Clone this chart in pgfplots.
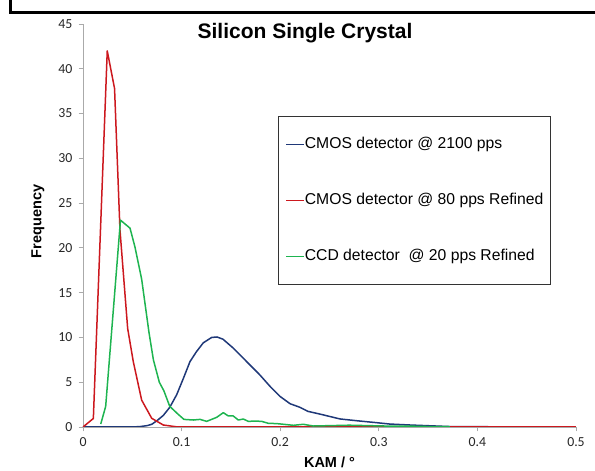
\documentclass[border=0pt]{standalone}
\usepackage{fontspec}
\setmainfont{Liberation Sans}
\newfontfamily\carlito{Carlito}
\usepackage{pgfplots}
\pgfplotsset{compat=1.18}
\definecolor{cblue}{RGB}{31,56,120}
\definecolor{cred}{RGB}{204,24,30}
\definecolor{cgreen}{RGB}{30,180,80}
\definecolor{axgray}{RGB}{170,170,170}
\newcommand{\tlfont}{\carlito\fontsize{13.8}{16}\selectfont}
\begin{document}
\begin{tikzpicture}[x=1pt,y=1pt]
\useasboundingbox (0,0) rectangle (595,471);
\draw[line width=3pt] (10,471) -- (10,458) -- (595,458);
\begin{axis}[
  at={(83pt,44pt)}, anchor=south west,
  scale only axis, width=493pt, height=403pt,
  xmin=0, xmax=0.5, ymin=0, ymax=45,
  xtick={0,0.1,0.2,0.3,0.4,0.5},
  ytick={0,5,...,45},
  axis x line*=bottom, axis y line*=left,
  axis line style={axgray, line width=0.8pt, -},
  tick style={axgray, line width=0.8pt},
  tick align=outside, major tick length=4.5pt,
  tick label style={text=black!85},
  xticklabel style={yshift=-3pt},
  yticklabel style={xshift=-2.5pt},
  xticklabel={\tlfont\pgfmathprintnumber[fixed,assume math mode=true]{\tick}},
  yticklabel={\tlfont\pgfmathprintnumber[assume math mode=true]{\tick}},
  xlabel={KAM / °},
  ylabel={Frequency},
  label style={font=\bfseries\fontsize{14.5}{17}\selectfont},
  xlabel style={at={(axis description cs:0.5,-0.089)}, anchor=center},
  ylabel style={at={(axis description cs:-0.0913,0.51)}, anchor=center, rotate=0},
  legend cell align=left,
  legend style={at={(axis description cs:0.3955,0.7717)}, anchor=north west,
    draw=black!80, line width=0.8pt,
    font=\fontsize{15.7}{18}\selectfont,
    inner xsep=7pt, inner ysep=21pt, row sep=42pt,
    nodes={inner sep=0pt, text height=11pt, text depth=3pt}},
  legend image code/.code={\draw[#1, line width=1.5pt] (0pt,0pt) -- (18pt,0pt);},
  every axis plot/.append style={line width=1.5pt, line join=round},
]
\addplot[cblue] coordinates {
(0,0)(0.05,0)(0.058,0.05)(0.065,0.15)(0.0697,0.3)(0.075,0.7)(0.0815,1.3)(0.088,2.2)
(0.095,3.6)(0.1017,5.4)(0.1085,7.3)(0.115,8.4)(0.122,9.4)(0.1305,10.0)(0.136,10.05)
(0.142,9.8)(0.1525,8.8)(0.166,7.3)(0.1795,5.8)(0.19,4.5)(0.2,3.4)(0.21,2.6)(0.22,2.2)
(0.228,1.75)(0.24,1.45)(0.2606,0.9)(0.2776,0.7)(0.298,0.48)(0.311,0.33)(0.332,0.22)
(0.3485,0.15)(0.372,0.05)(0.4,0.03)(0.448,0.02)
};
\addlegendentry{CMOS detector @ 2100 pps}
\addplot[cred] coordinates {
(0,0)(0.0105,0.95)(0.0246,42.0)(0.032,37.8)(0.0375,22)(0.0453,11.0)(0.051,7.3)
(0.0595,3.0)(0.0697,0.97)(0.0815,0.22)(0.095,0.02)(0.1,0)(0.5,0)
};
\addlegendentry{CMOS detector @ 80 pps Refined}
\addplot[cgreen] coordinates {
(0.018,0.33)(0.023,2.3)(0.038,23.1)(0.0477,22.2)(0.0527,20.1)(0.0595,16.5)(0.067,10.5)
(0.0714,7.5)(0.0774,5.0)(0.082,4.05)(0.088,2.3)(0.0967,1.4)(0.1024,0.85)(0.112,0.78)
(0.1187,0.85)(0.1254,0.63)(0.1356,1.08)(0.1423,1.6)(0.1474,1.23)(0.1524,1.23)
(0.1575,0.78)(0.1626,0.89)(0.1677,0.63)(0.1744,0.66)(0.1812,0.63)(0.188,0.41)
(0.1964,0.38)(0.2133,0.19)(0.2235,0.3)(0.2336,0.11)(0.25,0.15)(0.27,0.2)(0.29,0.15)
(0.31,0.1)(0.33,0.1)(0.35,0.05)(0.372,0.05)
};
\addlegendentry{CCD detector\ \ @ 20 pps Refined}
\end{axis}
\node[font=\bfseries\fontsize{21}{25}\selectfont] at (305,438) {Silicon Single Crystal};
\end{tikzpicture}
\end{document}
